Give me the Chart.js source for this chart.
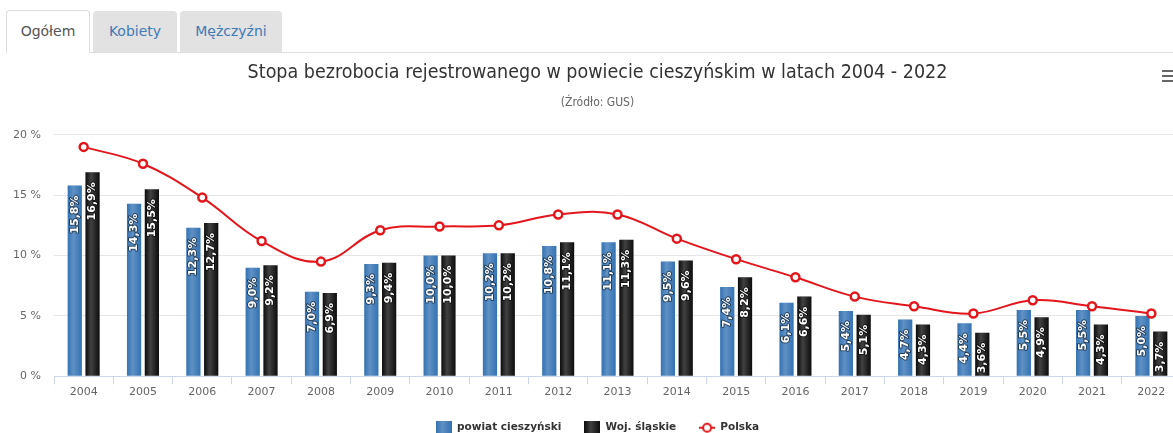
<!DOCTYPE html>
<html lang="pl">
<head>
<meta charset="utf-8">
<title>Stopa bezrobocia rejestrowanego - powiat cieszyński</title>
<script src="https://cdn.jsdelivr.net/npm/chart.js@4.4.0/dist/chart.umd.min.js"></script>
<style>
    html, body {
        margin: 0;
        padding: 0;
        background: #fff;
        width: 1173px;
        height: 433px;
        overflow: hidden;
        font-family: 'DejaVu Sans', Verdana, sans-serif;
    }
    .nav-tabs {
        position: absolute;
        left: 6px;
        top: 11px;
        width: 1200px;
        height: 41px;
        margin: 0;
        padding: 0;
        list-style: none;
        border-bottom: 1px solid #ddd;
        font-size: 14px;
    }
    .nav-tabs li {
        float: left;
        height: 41px;
        line-height: 41px;
        margin-right: 3px;
        text-align: center;
        border-radius: 4px 4px 0 0;
        background: #e2e2e2;
        color: #3f7ab5;
    }
    .nav-tabs li.active {
        background: #fff;
        color: #555;
        border: 1px solid #ddd;
        border-bottom-color: #fff;
        height: 41px;
        margin-top: -1px;
        box-sizing: content-box;
    }
    .chart-box {
        position: absolute;
        left: 0;
        top: 53px;
        width: 1194px;
        height: 390px;
    }
    .menu-btn {
        position: absolute;
        left: 1162px;
        top: 70px;
        width: 11px;
    }
    .menu-btn span {
        display: block;
        height: 2px;
        margin-bottom: 3px;
        background: #666;
    }
</style>
</head>
<body>
<ul class="nav-tabs">
    <li class="active" style="width:82px">Ogółem</li>
    <li style="width:84px">Kobiety</li>
    <li style="width:102px">Mężczyźni</li>
</ul>
<div class="chart-box"><canvas id="unemploymentChart"></canvas></div>
<div class="menu-btn"><span></span><span></span><span></span></div>

<script>
    'use strict';

    const years = ['2004', '2005', '2006', '2007', '2008', '2009', '2010', '2011', '2012', '2013',
        '2014', '2015', '2016', '2017', '2018', '2019', '2020', '2021', '2022'];
    const powiatCieszynski = [15.8, 14.3, 12.3, 9.0, 7.0, 9.3, 10.0, 10.2, 10.8, 11.1,
        9.5, 7.4, 6.1, 5.4, 4.7, 4.4, 5.5, 5.5, 5.0];
    const wojSlaskie = [16.9, 15.5, 12.7, 9.2, 6.9, 9.4, 10.0, 10.2, 11.1, 11.3,
        9.6, 8.2, 6.6, 5.1, 4.3, 3.6, 4.9, 4.3, 3.7];
    const polska = [19.0, 17.6, 14.8, 11.2, 9.5, 12.1, 12.4, 12.5, 13.4, 13.4,
        11.4, 9.7, 8.2, 6.6, 5.8, 5.2, 6.3, 5.8, 5.2];
    const yTicks = [0, 5, 10, 15, 20];

    const BLUE = '#3372b3';
    const BLACK = '#0c0c0c';
    const RED = '#e3161c';

    // Small icons for the legend
    function makeBoxIcon(color) {
        const c = document.createElement('canvas');
        c.width = 16;
        c.height = 13;
        const ctx = c.getContext('2d');
        ctx.fillStyle = color;
        ctx.fillRect(0, 0, 16, 13);
        const g = ctx.createLinearGradient(0, 0, 16, 0);
        g.addColorStop(0, 'rgba(255,255,255,0)');
        g.addColorStop(0.4, 'rgba(255,255,255,0.22)');
        g.addColorStop(1, 'rgba(255,255,255,0)');
        ctx.fillStyle = g;
        ctx.fillRect(0, 0, 16, 13);
        return c;
    }

    function makeLineIcon(color) {
        const c = document.createElement('canvas');
        c.width = 16;
        c.height = 12;
        const ctx = c.getContext('2d');
        ctx.strokeStyle = color;
        ctx.lineWidth = 2;
        ctx.beginPath();
        ctx.moveTo(0, 6);
        ctx.lineTo(16, 6);
        ctx.stroke();
        ctx.beginPath();
        ctx.arc(8, 6, 4, 0, Math.PI * 2);
        ctx.fillStyle = '#fff';
        ctx.fill();
        ctx.stroke();
        return c;
    }

    const legendIcons = [makeBoxIcon(BLUE), makeBoxIcon(BLACK), makeLineIcon(RED)];

    // Shine on the bars + rotated value labels
    const barDecor = {
        id: 'barDecor',
        afterDatasetDraw(chart, args) {
            const meta = args.meta;
            if (meta.type !== 'bar') return;
            const ctx = chart.ctx;
            const area = chart.chartArea;
            const values = chart.data.datasets[args.index].data;

            ctx.save();
            ctx.beginPath();
            ctx.rect(area.left, area.top, area.right - area.left, area.bottom - area.top);
            ctx.clip();

            meta.data.forEach((bar) => {
                const half = bar.width / 2;
                const g = ctx.createLinearGradient(bar.x - half, 0, bar.x + half, 0);
                g.addColorStop(0, 'rgba(255,255,255,0)');
                g.addColorStop(0.4, 'rgba(255,255,255,0.22)');
                g.addColorStop(1, 'rgba(255,255,255,0)');
                ctx.fillStyle = g;
                ctx.fillRect(bar.x - half, bar.y, bar.width, bar.base - bar.y);
            });

            ctx.font = 'bold 11px "DejaVu Sans"';
            ctx.textAlign = 'right';
            ctx.textBaseline = 'middle';
            ctx.lineJoin = 'round';
            meta.data.forEach((bar, i) => {
                const txt = values[i].toFixed(1).replace('.', ',') + '%';
                ctx.save();
                ctx.translate(bar.x, bar.y + 10);
                ctx.rotate(-Math.PI / 2);
                ctx.lineWidth = 2;
                ctx.strokeStyle = 'rgba(0,0,0,0.5)';
                ctx.strokeText(txt, 0, 0);
                ctx.fillStyle = '#fff';
                ctx.fillText(txt, 0, 0);
                ctx.restore();
            });
            ctx.restore();
        }
    };

    Chart.defaults.font.family = "'DejaVu Sans', Verdana, sans-serif";
    Chart.defaults.color = '#666';

    new Chart(document.getElementById('unemploymentChart'), {
        data: {
            labels: years,
            datasets: [
                {
                    type: 'bar',
                    label: 'powiat cieszyński',
                    data: powiatCieszynski,
                    backgroundColor: BLUE,
                    categoryPercentage: 0.6,
                    barPercentage: 0.8,
                    order: 1
                },
                {
                    type: 'bar',
                    label: 'Woj. śląskie',
                    data: wojSlaskie,
                    backgroundColor: BLACK,
                    categoryPercentage: 0.6,
                    barPercentage: 0.8,
                    order: 1
                },
                {
                    type: 'line',
                    label: 'Polska',
                    data: polska,
                    borderColor: RED,
                    borderWidth: 2,
                    tension: 0.4,
                    pointRadius: 4,
                    pointBorderWidth: 2.5,
                    pointBackgroundColor: '#fff',
                    pointBorderColor: RED,
                    order: 0
                }
            ]
        },
        options: {
            responsive: true,
            maintainAspectRatio: false,
            animation: false,
            layout: {
                padding: { left: 14, right: 13, top: 0, bottom: 0 }
            },
            scales: {
                x: {
                    offset: true,
                    border: { display: true, color: '#ccd6eb', width: 1 },
                    grid: {
                        offset: true,
                        drawOnChartArea: false,
                        drawTicks: true,
                        tickLength: 8,
                        color: '#ccd6eb'
                    },
                    ticks: {
                        padding: 1,
                        color: '#666',
                        font: { size: 11 },
                        maxRotation: 0
                    }
                },
                y: {
                    min: yTicks[0],
                    max: yTicks[yTicks.length - 1],
                    afterBuildTicks: (scale) => {
                        scale.ticks = yTicks.map(v => ({ value: v }));
                    },
                    afterFit: (scale) => {
                        scale.width = 40;
                    },
                    border: { display: false },
                    grid: { color: '#e6e6e6', drawTicks: false },
                    ticks: {
                        padding: 13,
                        color: '#666',
                        font: { size: 11 },
                        callback: (v) => v + ' %'
                    }
                }
            },
            plugins: {
                title: {
                    display: true,
                    text: 'Stopa bezrobocia rejestrowanego w powiecie cieszyńskim w latach 2004 - 2022',
                    color: '#333',
                    font: { family: "'DejaVu Sans Condensed', 'DejaVu Sans', sans-serif", size: 19.5, weight: 'normal' },
                    padding: { top: 8, bottom: 0 }
                },
                subtitle: {
                    display: true,
                    text: '(Źródło: GUS)',
                    color: '#666',
                    font: { family: "'DejaVu Sans Condensed', 'DejaVu Sans', sans-serif", size: 12 },
                    padding: { top: 11, bottom: 25 }
                },
                legend: {
                    position: 'bottom',
                    labels: {
                        usePointStyle: true,
                        pointStyleWidth: 16,
                        padding: 23,
                        color: '#333',
                        font: { size: 10.5, weight: 'bold' },
                        generateLabels: (chart) => chart.data.datasets.map((ds, i) => ({
                            text: ds.label,
                            pointStyle: legendIcons[i],
                            fillStyle: 'transparent',
                            strokeStyle: 'transparent',
                            lineWidth: 0,
                            fontColor: '#333',
                            hidden: false,
                            datasetIndex: i
                        }))
                    }
                },
                tooltip: { enabled: false }
            }
        },
        plugins: [barDecor]
    });
</script>
</body>
</html>
